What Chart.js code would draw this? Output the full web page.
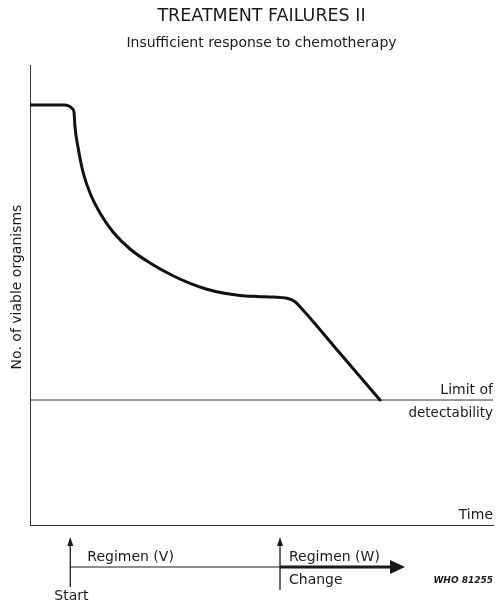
<!DOCTYPE html>
<html>
<head>
<meta charset="utf-8">
<script src="https://cdn.jsdelivr.net/npm/chart.js@4.4.0/dist/chart.umd.min.js"></script>
<style>
  html, body { margin: 0; padding: 0; background: #fff; }
  #wrap { width: 498px; height: 602px; }
</style>
</head>
<body>
<div id="wrap"><canvas id="chart" width="498" height="602"></canvas></div>
<script>
// values (time 0..100, organisms 0..100, arbitrary units)
const curveTime = [0, 7.3, 8.4, 9.1, 9.5, 9.6, 9.7, 10.4, 11.45, 12.96, 15.12, 17.93, 21.6, 25.92, 30.89, 34.56, 38.23, 41.68, 45.36, 49.03, 52.48, 55.51, 57.24, 58.32, 66.95, 75.59];
const curveCount = [91.3, 91.3, 91.09, 90.54, 89.78, 88.48, 86.74, 81.96, 76.74, 72.17, 67.83, 63.7, 60.0, 56.96, 54.18, 52.53, 51.25, 50.42, 49.9, 49.68, 49.55, 49.3, 48.54, 47.46, 37.32, 27.17];
const detectLimit = 27.17;
const regimenStart = 8.7;   // "Start"
const regimenChange = 54.0; // "Change"
const regimenEnd = 81.0;    // tip of Regimen (W) arrow

const FONT = '"DejaVu Sans", "Liberation Sans", sans-serif';
const INK = '#1a1a1a';

const curvePts = curveTime.map((t, i) => ({x: t, y: curveCount[i]}));
const limitPts = [{x: 0, y: detectLimit}, {x: 100, y: detectLimit}];

function txt(ctx, s, x, y, size, align, style){
  ctx.font = (style || '') + ' ' + size + 'px ' + FONT;
  ctx.textAlign = align || 'left';
  ctx.textBaseline = 'middle';
  ctx.fillText(s, x, y);
}

function upArrow(ctx, x, top, bottom){
  ctx.lineWidth = 1.3;
  ctx.beginPath(); ctx.moveTo(x, top + 6); ctx.lineTo(x, bottom); ctx.stroke();
  ctx.beginPath(); ctx.moveTo(x, top); ctx.lineTo(x - 3, top + 9); ctx.lineTo(x + 3, top + 9); ctx.closePath(); ctx.fill();
}

const decorations = {
  id: 'decorations',
  afterDraw(chart){
    const ctx = chart.ctx;
    const xs = chart.scales.x;
    const ys = chart.scales.y;
    const area = chart.chartArea;
    ctx.save();
    ctx.fillStyle = INK;
    ctx.strokeStyle = INK;

    // titles
    const cx = (area.left + area.right) / 2;
    txt(ctx, 'TREATMENT FAILURES II', cx, 16, 17.5, 'center');
    txt(ctx, 'Insufficient response to chemotherapy', cx, 43, 14, 'center');

    // y axis label
    ctx.save();
    ctx.translate(17, 287);
    ctx.rotate(-Math.PI / 2);
    txt(ctx, 'No. of viable organisms', 0, 0, 14, 'center');
    ctx.restore();

    // right-hand labels
    const yl = ys.getPixelForValue(detectLimit);
    txt(ctx, 'Limit of', area.right, yl - 10, 14, 'right');
    txt(ctx, 'detectability', area.right, yl + 13, 13.5, 'right');
    txt(ctx, 'Time', area.right, area.bottom - 10, 14, 'right');

    // treatment timeline under the axis
    const xStart = xs.getPixelForValue(regimenStart);
    const xChange = xs.getPixelForValue(regimenChange);
    const xEnd = xs.getPixelForValue(regimenEnd);
    const yLine = 567;
    upArrow(ctx, xStart, 537, 587);
    upArrow(ctx, xChange, 537, 590);
    ctx.lineWidth = 1;
    ctx.beginPath(); ctx.moveTo(xStart, yLine); ctx.lineTo(xChange, yLine); ctx.stroke();
    ctx.lineWidth = 3.2;
    ctx.beginPath(); ctx.moveTo(xChange, yLine); ctx.lineTo(xEnd - 12, yLine); ctx.stroke();
    ctx.beginPath(); ctx.moveTo(xEnd, yLine); ctx.lineTo(xEnd - 15, yLine - 7); ctx.lineTo(xEnd - 15, yLine + 7); ctx.closePath(); ctx.fill();

    txt(ctx, 'Regimen (V)', xStart + 17, 557, 14, 'left');
    txt(ctx, 'Regimen (W)', xChange + 9, 557, 14, 'left');
    txt(ctx, 'Change', xChange + 9, 580, 14, 'left');
    txt(ctx, 'Start', xStart - 16, 596, 14, 'left');
    txt(ctx, 'WHO 81255', area.right, 581, 9, 'right', 'italic bold');
    ctx.restore();
  }
};

new Chart(document.getElementById('chart'), {
  type: 'scatter',
  data: {
    datasets: [
      {
        label: 'Viable organisms',
        data: curvePts,
        showLine: true,
        borderColor: '#111',
        borderWidth: 3,
        pointRadius: 0,
        cubicInterpolationMode: 'monotone',
        borderCapStyle: 'round',
        borderJoinStyle: 'round'
      },
      {
        label: 'Limit of detectability',
        data: limitPts,
        showLine: true,
        borderColor: '#333',
        borderWidth: 1,
        pointRadius: 0
      }
    ]
  },
  options: {
    responsive: false,
    animation: false,
    events: [],
    layout: { padding: { left: 30, right: 5, top: 65, bottom: 77 } },
    plugins: { legend: { display: false }, tooltip: { enabled: false } },
    scales: {
      x: {
        type: 'linear', min: 0, max: 100,
        grid: { display: false, drawTicks: false },
        border: { display: true, color: '#333', width: 1 },
        ticks: { display: false }
      },
      y: {
        type: 'linear', min: 0, max: 100,
        grid: { display: false, drawTicks: false },
        border: { display: true, color: '#333', width: 1 },
        ticks: { display: false }
      }
    }
  },
  plugins: [decorations]
});
</script>
</body>
</html>
